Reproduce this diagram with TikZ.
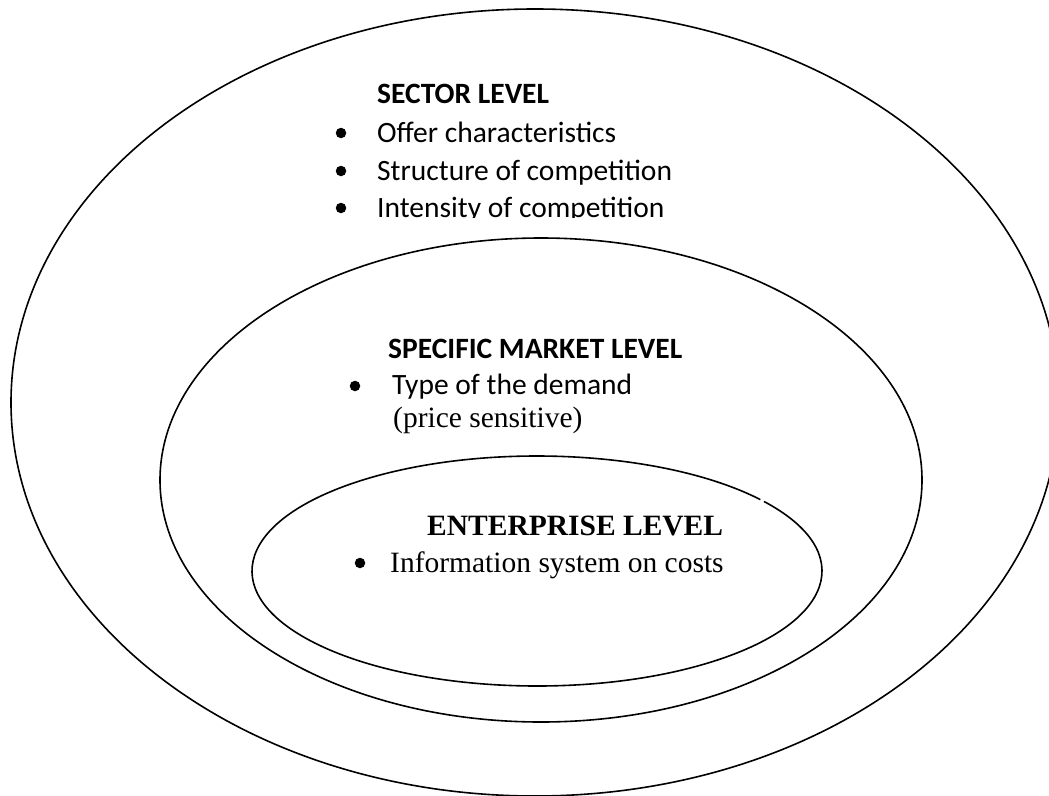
\documentclass[tikz,border=0pt]{standalone}
\usepackage{fontspec}
\setmainfont{Liberation Serif}
\newfontfamily\carlitofont{Carlito}
\begin{document}
\begin{tikzpicture}[x=1pt,y=-1pt,
  ring/.style={draw=black,line width=1.6pt},
  calhead/.style={anchor=base west,inner sep=0pt,font=\carlitofont\bfseries\fontsize{29.5}{34}\selectfont},
  caltext/.style={anchor=base west,inner sep=0pt,font=\carlitofont\fontsize{29.5}{34}\selectfont},
  serhead/.style={anchor=base west,inner sep=0pt,font=\bfseries\fontsize{29.5}{34}\selectfont},
  sertext/.style={anchor=base west,inner sep=0pt,font=\fontsize{29.5}{34}\selectfont},
  dot/.style={circle,fill=black,inner sep=0pt,minimum size=10.5pt}]
\useasboundingbox (0,0) rectangle (1049,795);
\begin{scope}
\clip (0,0) rectangle (1049,795);
% nested levels
\draw[ring] (535,402.5) ellipse [x radius=524, y radius=393.5];
\draw[ring] (541,480) ellipse [x radius=381, y radius=242];
\draw[ring] (537,571) ++(-37.2:285 and 115) arc [start angle=-37.2, end angle=321.6, x radius=285, y radius=115];
\end{scope}
% sector level
\node[calhead] (sh) at (377,103) {SECTOR LEVEL};
\node[dot] (s1) at (341,133) {};
\node[caltext] (st1) at (377,142) {Offer characteristics};
\node[dot] (s2) at (341,171) {};
\node[caltext] (st2) at (377,180) {Structure of competition};
\node[dot] (s3) at (341,208) {};
\begin{scope}
\clip (360,190) rectangle (800,217);
\node[caltext] (st3) at (377,217) {Intensity of competition};
\end{scope}
% specific market level
\node[calhead] (mh) at (388,358) {SPECIFIC MARKET LEVEL};
\node[dot] (m1) at (355,386) {};
\node[caltext] (mt1) at (392,394) {Type of the demand};
\node[sertext] (mt2) at (393,427) {(price sensitive)};
% enterprise level
\node[serhead] (eh) at (427,535) {ENTERPRISE LEVEL};
\node[dot] (e1) at (360,563) {};
\node[sertext] (et1) at (390,572) {Information system on costs};
\end{tikzpicture}
\end{document}
